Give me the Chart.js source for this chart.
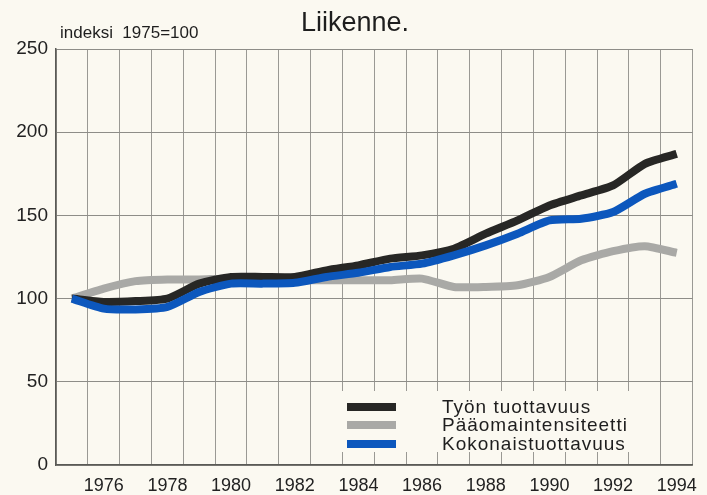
<!DOCTYPE html>
<html>
<head>
<meta charset="utf-8">
<script src="https://cdn.jsdelivr.net/npm/chart.js@4/dist/chart.umd.min.js"></script>
<style>
  html, body { margin: 0; padding: 0; background: #fbf9f1; }
  #wrap { width: 707px; height: 495px; position: relative; }
</style>
</head>
<body>
<div id="wrap"><canvas id="c" width="707" height="495"></canvas></div>
<script>
const years = ['1975','1976','1977','1978','1979','1980','1981','1982','1983','1984',
               '1985','1986','1987','1988','1989','1990','1991','1992','1993','1994'];
const tyonTuottavuus = [100, 98, 98.5, 100, 109, 113, 113, 113, 117, 120,
                        124, 126, 130, 139, 147, 156, 162, 168, 181, 187];
const paaomaintensiteetti = [100, 106, 110.5, 111.5, 111.5, 112, 111, 111, 111, 111,
                             111, 112, 107, 107, 108, 113, 123, 128.5, 131.5, 127.5];
const kokonaistuottavuus = [100, 94, 93.5, 95, 104, 109, 109, 109.5, 113, 115.5,
                            119, 121, 126, 132, 139, 147, 148, 152, 163, 169];
const yTicks = [0, 50, 100, 150, 200, 250];
const seriesNames = ['Työn tuottavuus', 'Pääomaintensiteetti', 'Kokonaistuottavuus'];
const titleText = 'Liikenne.';
const unitText = 'indeksi  1975=100';

const colBlack = '#272725';
const colGray = '#a9a9a6';
const colBlue = '#0c57bd';
const bg = '#fbf9f1';

const overlay = {
  id: 'overlay',
  beforeDraw(chart) {
    const ctx = chart.ctx;
    ctx.save();
    ctx.fillStyle = bg;
    ctx.fillRect(0, 0, chart.width, chart.height);
    ctx.fillStyle = '#1e1e1e';
    ctx.font = '27px "Liberation Sans", Arial, sans-serif';
    ctx.textAlign = 'center';
    ctx.textBaseline = 'alphabetic';
    ctx.fillText(titleText, 355, 31);
    ctx.font = '17px "Liberation Sans", Arial, sans-serif';
    ctx.textAlign = 'left';
    ctx.fillText(unitText, 60, 38);
    ctx.restore();
  },
  afterDatasetsDraw(chart) {
    const ctx = chart.ctx;
    ctx.save();
    ctx.fillStyle = bg;
    ctx.fillRect(338, 391, 310, 61);
    const cols = [colBlack, colGray, colBlue];
    const ys = [407, 425, 444];
    ctx.font = '19px "Liberation Sans", Arial, sans-serif';
    ctx.textAlign = 'left';
    ctx.textBaseline = 'alphabetic';
    if ('letterSpacing' in ctx) ctx.letterSpacing = '1px';
    for (let i = 0; i < 3; i++) {
      ctx.fillStyle = cols[i];
      ctx.fillRect(347, ys[i] - 4, 49, 8);
      ctx.fillStyle = '#1e1e1e';
      ctx.fillText(seriesNames[i], 442, ys[i] + 6);
    }
    ctx.restore();
  }
};

new Chart(document.getElementById('c'), {
  type: 'line',
  data: {
    labels: years,
    datasets: [
      { label: seriesNames[2], data: kokonaistuottavuus, borderColor: colBlue, order: 0 },
      { label: seriesNames[0], data: tyonTuottavuus, borderColor: colBlack, order: 1 },
      { label: seriesNames[1], data: paaomaintensiteetti, borderColor: colGray, order: 2 }
    ]
  },
  options: {
    responsive: false,
    animation: false,
    layout: { padding: { top: 49, right: 10, left: 0, bottom: 0 } },
    elements: {
      line: { borderWidth: 8, tension: 0.2, borderCapStyle: 'butt', borderJoinStyle: 'round', fill: false },
      point: { radius: 0, hoverRadius: 0 }
    },
    plugins: { legend: { display: false }, title: { display: false }, tooltip: { enabled: false } },
    scales: {
      x: {
        type: 'category',
        offset: true,
        afterFit(s) { s.height = 30; },
        grid: { offset: true, color: '#9a9994', lineWidth: 1, drawTicks: false },
        border: { color: '#5a5a56', width: 1.5 },
        ticks: {
          autoSkip: false, maxRotation: 0, minRotation: 0, padding: 10,
          color: '#222', font: { family: '"Liberation Sans", Arial, sans-serif', size: 18 },
          callback(v, i) { return i % 2 === 1 ? years[i] : ''; }
        }
      },
      y: {
        min: 0, max: 250,
        afterFit(s) { s.width = 56; },
        afterBuildTicks(s) { s.ticks = yTicks.map(v => ({ value: v })); },
        grid: { color: '#8e8d88', lineWidth: 1, drawTicks: false },
        border: { color: '#5a5a56', width: 1.5 },
        ticks: {
          padding: 8, color: '#222',
          font: { family: '"Liberation Sans", Arial, sans-serif', size: 19 }
        }
      }
    }
  },
  plugins: [overlay]
});
</script>
</body>
</html>
